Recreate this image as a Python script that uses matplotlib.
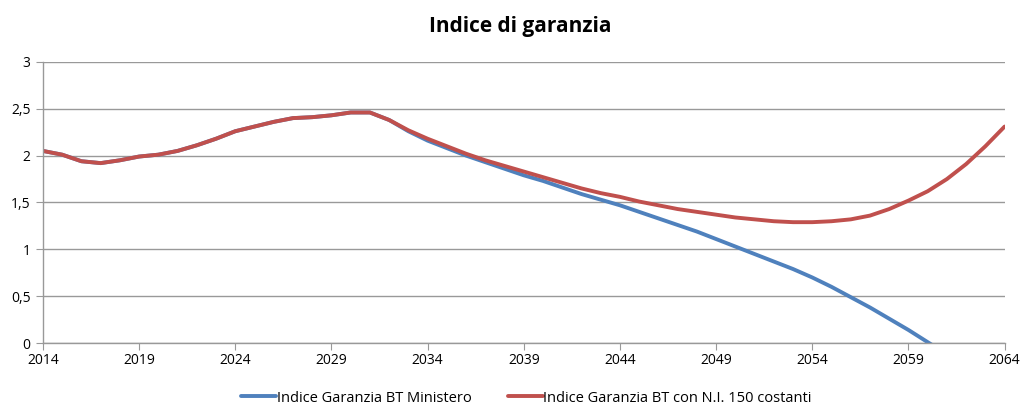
import matplotlib
matplotlib.use("Agg")
import matplotlib.pyplot as plt
from matplotlib.ticker import FuncFormatter

years = list(range(2014, 2065))

red_vals = [2.05, 2.01, 1.94, 1.92, 1.95, 1.99, 2.01, 2.05, 2.11, 2.18,
            2.26, 2.31, 2.36, 2.40, 2.41, 2.43, 2.46, 2.46, 2.38, 2.27,
            2.18, 2.10, 2.02, 1.95, 1.89, 1.83, 1.77, 1.71, 1.65, 1.60,
            1.56, 1.51, 1.47, 1.43, 1.40, 1.37, 1.34, 1.32, 1.30, 1.29,
            1.29, 1.30, 1.32, 1.36, 1.43, 1.52, 1.62, 1.75, 1.91, 2.10,
            2.31]

blue_years = list(range(2014, 2062))
blue_vals = [2.05, 2.01, 1.94, 1.92, 1.95, 1.99, 2.01, 2.05, 2.11, 2.18,
             2.26, 2.31, 2.36, 2.40, 2.41, 2.43, 2.46, 2.46, 2.38, 2.26,
             2.16, 2.08, 2.00, 1.93, 1.86, 1.79, 1.73, 1.66, 1.59, 1.53,
             1.47, 1.40, 1.33, 1.26, 1.19, 1.11, 1.03, 0.95, 0.87, 0.79,
             0.70, 0.60, 0.49, 0.38, 0.26, 0.14, 0.01, -0.12]

x_ticks = list(range(2014, 2065, 5))
y_ticks = [0, 0.5, 1, 1.5, 2, 2.5, 3]

title = "Indice di garanzia"
label_blue = "Indice Garanzia BT Ministero"
label_red = "Indice Garanzia BT con N.I. 150 costanti"

plt.rcParams['font.family'] = ['Open Sans', 'DejaVu Sans']

fig = plt.figure(figsize=(10.22, 4.07), dpi=100)
ax = fig.add_axes([0.042, 0.157, 0.941, 0.691])

grid_col = "#999999"
ax.set_axisbelow(True)
ax.grid(axis='y', color=grid_col, linewidth=1.0)

ax.plot(blue_years, blue_vals, color="#4F81BD", linewidth=2.8, label=label_blue,
        solid_capstyle='round', solid_joinstyle='round')
ax.plot(years, red_vals, color="#C0504D", linewidth=2.8, label=label_red,
        solid_capstyle='round', solid_joinstyle='round')

ax.set_xlim(2014, 2064)
ax.set_ylim(0, 3)
ax.set_xticks(x_ticks)
ax.set_yticks(y_ticks)
ax.yaxis.set_major_formatter(FuncFormatter(lambda v, p: ("%g" % v).replace('.', ',')))

for s in ['top', 'right']:
    ax.spines[s].set_visible(False)
for s in ['left', 'bottom']:
    ax.spines[s].set_color(grid_col)
    ax.spines[s].set_linewidth(1.0)

ax.tick_params(axis='x', direction='out', length=5, color=grid_col, labelsize=10, pad=2)
ax.tick_params(axis='y', direction='out', length=5, color=grid_col, labelsize=10, pad=4)

fig.text(0.509, 0.935, title, ha='center', va='center', fontsize=15, fontweight='bold')

fig.legend(loc='center', bbox_to_anchor=(0.515, 0.022), ncol=2, frameon=False,
           fontsize=10.5, handlelength=2.4, handletextpad=0.05, columnspacing=2.5,
           borderpad=0.0)

fig.savefig("out.png", dpi=100)
